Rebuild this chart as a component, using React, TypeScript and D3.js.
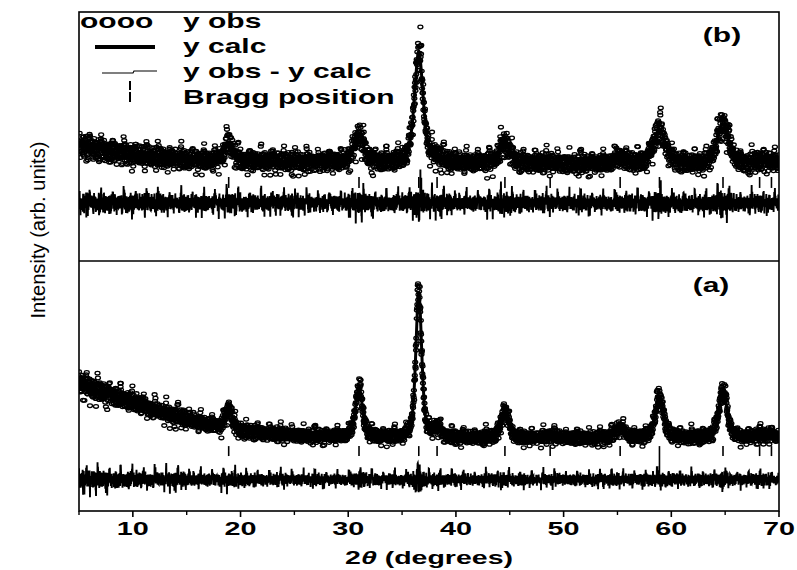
import React, { useMemo } from "react";
import * as d3 from "d3";

// ---------- data ----------
const X_DOMAIN = [5, 70];
const STEP = 0.02;
const xMajorTicks = [10, 20, 30, 40, 50, 60, 70];
const xMinorTicks = [5, 15, 25, 35, 45, 55, 65];

const braggPositions = [18.9, 31.0, 36.55, 38.25, 44.55, 48.75, 55.25, 58.9, 64.8, 68.2, 69.3];

// panel (b): background and peaks (intensity, arb. units)
const bgB_x = [5, 7, 10, 13, 16, 20, 25, 30, 35, 40, 45, 50, 55, 60, 65, 70];
const bgB_y = [349, 319, 289, 270, 258, 252, 246, 246, 240, 240, 240, 234, 234, 234, 228, 228];
const peaksB_h = [108, 163, 669, 30, 120, 8, 36, 205, 247, 18, 18];
const peaksB_w = [0.9, 1.0, 0.95, 1.0, 1.1, 1.2, 1.3, 1.3, 1.3, 1.2, 1.2];

// panel (a)
const bgA_x = [5, 6, 8, 10, 12, 14, 16, 18, 20, 23, 26, 30, 35, 40, 50, 60, 70];
const bgA_y = [581, 551, 509, 467, 418, 382, 346, 316, 292, 274, 262, 256, 250, 250, 250, 250, 250];
const peaksA_h = [127, 301, 873, 60, 169, 12, 60, 247, 289, 18, 18];
const peaksA_w = [0.7, 0.75, 0.65, 0.8, 0.8, 0.9, 1.0, 0.9, 0.9, 0.9, 0.9];

// residual (obs - calc) patterns, in units of noise amplitude
const R1 = [0.31, -0.72, 0.15, 0.88, -0.44, -0.09, 0.63, -0.95, 0.27, 0.52,
  -0.31, -0.66, 0.04, 0.79, -0.18, -0.83, 0.41, 0.12, -0.57, 0.96,
  -0.23, -0.48, 0.69, 0.08, -0.91, 0.36, -0.14, 0.58, -0.74, 0.21,
  0.47, -0.39, -0.02, 0.85, -0.61, 0.18, -0.28, 0.73, -0.87, 0.33,
  0.06, -0.52, 0.64, -0.17, -0.79, 0.44, 0.91, -0.36, -0.07, 0.55,
  -0.68, 0.25, -0.94, 0.13, 0.71, -0.42, 0.38, -0.11, -0.59, 0.82,
  -0.26, 0.49, -0.77, 0.02, 0.66, -0.33, 0.19, -0.86, 0.57, -0.05,
  0.93, -0.47, -0.21, 0.35, -0.64, 0.76, -0.12, 0.28, -0.98, 0.45,
  0.09, -0.55, 0.61, -0.38, 0.16, -0.81, 0.52, 0.84, -0.24, -0.69,
  0.39, -0.03, 0.74, -0.46, 0.22, -0.89, 0.58];
const R2 = [-0.45, 0.67, -0.12, 0.29, -0.83, 0.54, 0.07, -0.36, 0.92, -0.61,
  0.18, -0.27, 0.75, -0.94, 0.41, 0.03, -0.58, 0.86, -0.19, 0.32,
  -0.71, 0.62, -0.04, -0.49, 0.97, -0.33, 0.14, -0.88, 0.51, 0.26,
  -0.65, 0.39, -0.16, 0.81, -0.52, 0.09, -0.77, 0.44, 0.68, -0.29,
  -0.93, 0.21, 0.57, -0.41, 0.12, -0.69, 0.85, -0.08, 0.34, -0.56,
  0.73, -0.22, -0.85, 0.48, 0.01, -0.37, 0.64, -0.91, 0.27, 0.53,
  -0.14, -0.62, 0.89, -0.47, 0.16, 0.38, -0.79, 0.06, 0.71, -0.31,
  0.46, -0.98, 0.24, 0.59, -0.18, -0.54, 0.82, -0.06, 0.35, -0.73,
  0.13, 0.66, -0.42, -0.24, 0.95, -0.67, 0.31, -0.11, 0.49];
const SP = [0, 0, 0, 1.1, 0, 0, 0, 0, -0.9, 0, 0, 0, 0, 0, 1.3, 0, 0, 0, 0, 0, 0, -1.2, 0, 0, 0, 0.9,
  0, 0, 0, 0, 0, 0, -0.8, 0, 0, 0, 1.5, 0, 0, 0, 0, 0, -1.1, 0, 0, 0, 0, 0.8, 0, 0, 0, 0, 0];

const xTickLabels = ["10", "20", "30", "40", "50", "60", "70"];
const legendLabels = ["y obs", "y calc", "y obs - y calc", "Bragg position"];

// ---------- layout ----------
const W = 797, H = 570;
const L = 79, R = 779, T = 12, MID = 261, B = 511;
const FONT = "'Liberation Sans', Arial, Helvetica, sans-serif";

function pv(x: number, x0: number, h: number, w: number) {
  const d = (x - x0) / (w / 2);
  return h * (0.5 * Math.exp(-Math.LN2 * d * d) + 0.5 / (1 + d * d));
}
function resid(i: number) {
  return 0.85 * R1[i % R1.length] + 0.3 * R2[(i * 7 + 3) % R2.length] + 0.7 * SP[(i * 11 + 5) % SP.length];
}
function buildPanel(bgX: number[], bgY: number[], hs: number[], ws: number[], amp: number, off: number) {
  const bg = d3.scaleLinear().domain(bgX).range(bgY);
  const ref = bgY[bgY.length - 1];
  const n = Math.round((X_DOMAIN[1] - X_DOMAIN[0]) / STEP) + 1;
  const out: { x: number; calc: number; obs: number; diff: number }[] = [];
  for (let i = 0; i < n; i++) {
    const x = X_DOMAIN[0] + i * STEP;
    let c = bg(x);
    for (let k = 0; k < braggPositions.length; k++) c += pv(x, braggPositions[k], hs[k], ws[k]);
    const r = resid(i + off) * amp * Math.pow(c / ref, 0.55);
    out.push({ x, calc: c, obs: c + r, diff: r });
  }
  return out;
}

function StretchText({ x, y, sx = 1.5, size, weight = "bold", anchor = "middle", children }: any) {
  return (
    <text transform={`translate(${x},${y}) scale(${sx},1)`} textAnchor={anchor} fontFamily={FONT}
      fontSize={size} fontWeight={weight} fill="#000">{children}</text>
  );
}

function Panel({ data, y, braggRange, longTick, clipId, top, bottom }: any) {
  const x = d3.scaleLinear().domain(X_DOMAIN).range([L, R]);
  const calcLine = d3.line<any>().x(d => x(d.x)).y(d => y(d.calc));
  const diffLine = d3.line<any>().x(d => x(d.x)).y(d => y(d.diff));
  return (
    <g>
      <clipPath id={clipId}><rect x={L} y={top} width={R - L} height={bottom - top} /></clipPath>
      <g clipPath={`url(#${clipId})`}>
        <path d={diffLine(data) || ""} fill="none" stroke="#000" strokeWidth={1.9} />
        <path d={calcLine(data) || ""} fill="none" stroke="#000" strokeWidth={3} />
        {data.map((d: any, i: number) => (
          <ellipse key={i} cx={x(d.x)} cy={y(d.obs)} rx={2.5} ry={1.8} fill="none" stroke="#000" strokeWidth={1.3} />
        ))}
        {braggPositions.map((p, i) => (
          <line key={i} x1={x(p)} x2={x(p)} y1={y(braggRange[0])}
            y2={longTick && Math.abs(p - longTick[0]) < 0.01 ? y(longTick[1]) : y(braggRange[1])}
            stroke="#000" strokeWidth={1.6} />
        ))}
      </g>
    </g>
  );
}

export default function App() {
  const dataB = useMemo(() => buildPanel(bgB_x, bgB_y, peaksB_h, peaksB_w, 55, 0), []);
  const dataA = useMemo(() => buildPanel(bgA_x, bgA_y, peaksA_h, peaksA_w, 40, 1234), []);
  const x = d3.scaleLinear().domain(X_DOMAIN).range([L, R]);
  const yB = d3.scaleLinear().domain([-350, 1150]).range([MID, T]);
  const yA = d3.scaleLinear().domain([-190, 1310]).range([B, MID + 1]);

  const legY = [28, 53, 78, 104];
  return (
    <svg width={W} height={H} style={{ position: "absolute", left: 0, top: 0, background: "#fff" }}>
      <rect x={0} y={0} width={W} height={H} fill="#fff" />
      <Panel data={dataB} y={yB} braggRange={[156, 90]} clipId="clipB" top={T} bottom={MID} />
      <Panel data={dataA} y={yA} braggRange={[201, 141]} longTick={[58.9, 39]} clipId="clipA" top={MID} bottom={B} />

      {/* frame */}
      <rect x={L} y={T} width={R - L} height={B - T} fill="none" stroke="#000" strokeWidth={1.6} />
      <line x1={L} x2={R} y1={MID} y2={MID} stroke="#000" strokeWidth={1.6} />

      {/* x ticks */}
      {xMajorTicks.map(t => (
        <line key={"M" + t} x1={x(t)} x2={x(t)} y1={B} y2={B + 6} stroke="#000" strokeWidth={1.6} />
      ))}
      {xMinorTicks.map(t => (
        <line key={"m" + t} x1={x(t)} x2={x(t)} y1={B} y2={B + 4} stroke="#000" strokeWidth={1.4} />
      ))}
      {xMajorTicks.map((t, i) => (
        <StretchText key={"l" + t} x={x(t)} y={535} size={18} sx={1.6}>{xTickLabels[i]}</StretchText>
      ))}
      <StretchText x={429} y={564} size={19} sx={1.5}>
        2<tspan fontStyle="italic">θ</tspan> (degrees)
      </StretchText>

      {/* y label */}
      <text transform="translate(45,230) rotate(-90) scale(1.12,1.15)" textAnchor="middle" fontFamily={FONT}
        fontSize={18} fill="#000">Intensity (arb. units)</text>

      {/* panel labels */}
      <StretchText x={722} y={42} size={20}>(b)</StretchText>
      <StretchText x={711} y={292} size={20}>(a)</StretchText>

      {/* legend */}
      <StretchText x={80} y={legY[0]} size={20} anchor="start">oooo</StretchText>
      <line x1={95} x2={155} y1={47} y2={47} stroke="#000" strokeWidth={4} />
      <path d="M102,73 L133,73 L134,71 L157,71" fill="none" stroke="#000" strokeWidth={1.2} />
      <line x1={130} x2={130} y1={81} y2={90} stroke="#000" strokeWidth={2} />
      <line x1={130} x2={130} y1={92} y2={102} stroke="#000" strokeWidth={2} />
      {legendLabels.map((s, i) => (
        <StretchText key={s} x={183} y={legY[i]} size={20} anchor="start">{s}</StretchText>
      ))}
    </svg>
  );
}
